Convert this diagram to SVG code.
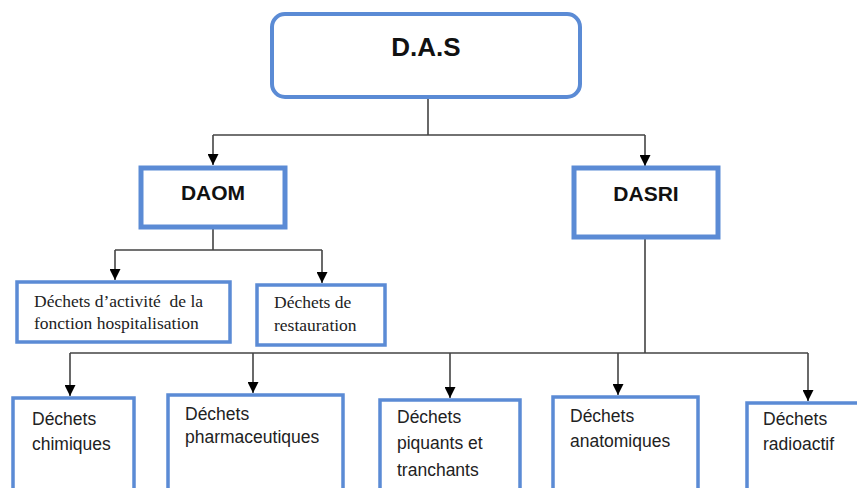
<svg xmlns="http://www.w3.org/2000/svg" width="857" height="488" viewBox="0 0 857 488">
<style>
.box{fill:#fff;stroke:#5b8bd5}
.t1{stroke-width:4}
.t2{stroke-width:5}
.t3{stroke-width:3.5}
.hb{font-family:"Liberation Sans",Arial,sans-serif;font-weight:bold;fill:#111;text-anchor:middle}
.sf{font-family:"Liberation Serif","Times New Roman",serif;font-size:17.5px;fill:#222}
.ss{font-family:"Liberation Sans",Arial,sans-serif;font-size:17.5px;fill:#222}
.ln{fill:none;stroke:#444;stroke-width:1.6}
</style>
<defs>
<marker id="ah" viewBox="0 0 10 10" refX="10" refY="5" markerWidth="11" markerHeight="11" markerUnits="userSpaceOnUse" orient="auto">
<path d="M0,0 L10,5 L0,10 z" fill="#000"/>
</marker>
</defs>
<g id="connectors">
<path class="ln" d="M428,97 V135 M213,135 H645"/>
<path class="ln" d="M213,135 V165" marker-end="url(#ah)"/>
<path class="ln" d="M645,135 V166" marker-end="url(#ah)"/>
<path class="ln" d="M213,227 V250 M115,250 H322"/>
<path class="ln" d="M115,250 V280" marker-end="url(#ah)"/>
<path class="ln" d="M322,250 V283" marker-end="url(#ah)"/>
<path class="ln" d="M645,237 V353 M70,353 H808"/>
<path class="ln" d="M70,353 V396" marker-end="url(#ah)"/>
<path class="ln" d="M253,353 V393" marker-end="url(#ah)"/>
<path class="ln" d="M450,353 V398" marker-end="url(#ah)"/>
<path class="ln" d="M618,353 V395" marker-end="url(#ah)"/>
<path class="ln" d="M808,353 V401" marker-end="url(#ah)"/>
</g>
<g id="das">
<rect class="box t1" x="272" y="14" width="308" height="83" rx="13"/>
<text class="hb" x="426" y="56" font-size="26">D.A.S</text>
</g>
<g id="daom">
<rect class="box t2" x="141" y="168" width="144" height="59"/>
<text class="hb" x="213" y="200" font-size="21">DAOM</text>
</g>
<g id="dasri">
<rect class="box t2" x="574" y="168" width="144" height="69"/>
<text class="hb" x="646" y="201" font-size="21">DASRI</text>
</g>
<g id="hospitalisation">
<rect class="box t3" x="17" y="282" width="213" height="60"/>
<text class="sf" x="34" y="307" xml:space="preserve">Déchets d’activité  de la</text>
<text class="sf" x="34" y="329">fonction hospitalisation</text>
</g>
<g id="restauration">
<rect class="box t3" x="257" y="285" width="128" height="60"/>
<text class="sf" x="274" y="308">Déchets de</text>
<text class="sf" x="274" y="331">restauration</text>
</g>
<g id="chimiques">
<rect class="box t3" x="13" y="398" width="121" height="100"/>
<text class="ss" x="32" y="425">Déchets</text>
<text class="ss" x="32" y="450">chimiques</text>
</g>
<g id="pharmaceutiques">
<rect class="box t3" x="168" y="395" width="175" height="100"/>
<text class="ss" x="185" y="420">Déchets</text>
<text class="ss" x="185" y="443">pharmaceutiques</text>
</g>
<g id="piquants">
<rect class="box t3" x="380" y="400" width="140" height="100"/>
<text class="ss" x="397" y="423">Déchets</text>
<text class="ss" x="397" y="449">piquants et</text>
<text class="ss" x="397" y="476">tranchants</text>
</g>
<g id="anatomiques">
<rect class="box t3" x="553" y="397" width="145" height="100"/>
<text class="ss" x="570" y="422">Déchets</text>
<text class="ss" x="570" y="447">anatomiques</text>
</g>
<g id="radioactif">
<rect class="box t3" x="747" y="403" width="130" height="100"/>
<text class="ss" x="763" y="425">Déchets</text>
<text class="ss" x="763" y="450">radioactif</text>
</g>
</svg>
